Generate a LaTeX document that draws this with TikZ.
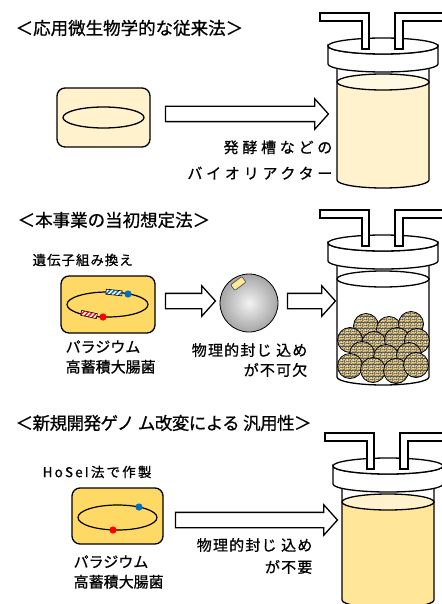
\documentclass[tikz,border=0pt]{standalone}
\usepackage{fontspec}
\newfontfamily\headfont[FakeBold=0.8]{Noto Sans CJK JP}
\newfontfamily\labelfont[LetterSpace=8,FakeBold=0.8]{Noto Sans CJK JP}
\usetikzlibrary{shapes.arrows,patterns.meta}
\definecolor{pale}{HTML}{FFF2CC}
\definecolor{paletop}{HTML}{FFF8E3}
\definecolor{gold}{HTML}{FFD966}
\definecolor{broth}{HTML}{FFE699}
\definecolor{rod}{HTML}{F2D27A}
\definecolor{dotblue}{HTML}{0070C0}
\definecolor{dotred}{HTML}{FF0000}

% immobilised cells inside a bead
\tikzdeclarepattern{name=rods,type=colored,
  bottom left={(0pt,0pt)},top right={(6pt,6pt)},tile size={(6pt,6pt)},
  code={
    \draw[rod,line width=1.5pt,line cap=round]
      (0.7pt,1.0pt) -- (2.2pt,2.5pt)
      (3.5pt,0.7pt) -- (5.2pt,1.6pt)
      (0.9pt,4.1pt) -- (2.6pt,5.1pt)
      (4.1pt,3.2pt) -- (4.9pt,4.8pt);
  }}

% fermenter: #1 shift, #2 liquid, #3 liquid surface
\newcommand{\fermenter}[3]{%
  \begin{scope}[shift={#1}]
    \fill[white] (-46,20) -- (-46,134) arc[start angle=180,end angle=0,x radius=46,y radius=8] -- (46,20) -- cycle;
    \fill[#2] (-46,36) -- (-46,134) arc[start angle=180,end angle=0,x radius=46,y radius=8] -- (46,36) -- cycle;
    \draw[#3] (0,36) ellipse[x radius=46,y radius=8];
    \draw (-46,20) -- (-46,134) arc[start angle=180,end angle=0,x radius=46,y radius=8] -- (46,20);
    % lid
    \draw[fill=white] (-55,0) -- (-55,18) arc[start angle=180,end angle=0,x radius=55,y radius=8]
      -- (55,0) arc[start angle=0,end angle=180,x radius=55,y radius=8] -- cycle;
    \draw[fill=white] (0,0) ellipse[x radius=55,y radius=8];
    % tubes
    \draw[fill=white] (-63,-33) -- (-14,-33) -- (-14,3) -- (-21,3) -- (-21,-25) -- (-63,-25) -- cycle;
    \draw[fill=white] (12,3) -- (12,-33) -- (75,-33) -- (75,-25) -- (20,-25) -- (20,3) -- cycle;
  \end{scope}}

\begin{document}
\begin{tikzpicture}[x=1pt,y=-1pt,line width=1.3pt,
  heading/.style={anchor=west,inner sep=0,font=\fontsize{17.5}{20}\selectfont\headfont},
  lbl/.style={inner sep=0,font=\fontsize{15}{#1}\selectfont\labelfont},
  lbl/.default=20,
  strain/.style={inner sep=0,anchor=west,align=left,
    font=\fontsize{15}{20}\selectfont\labelfont\addfontfeature{LetterSpace=0}},
  small/.style={inner sep=0,anchor=west,font=\fontsize{13.5}{16}\selectfont\labelfont},
  cell/.style={draw,rounded corners=8,inner sep=0},
  bigarrow/.style={single arrow,draw,fill=white,inner xsep=0,inner ysep=7pt,
    text height=0pt,text depth=0pt,minimum width=0pt,
    single arrow head extend=7.5pt,single arrow tip angle=96},
  marker/.style={draw,line width=0.6pt,inner sep=0,minimum width=16,minimum height=5,
    preaction={fill=white},pattern={Lines[angle=45,distance=3.2pt,line width=1.3pt]}},
  bead/.style={draw,line width=0.8pt,preaction={fill=black!65},pattern=rods}]
\fill[white] (0,0) rectangle (441,604);
\useasboundingbox (0,0) rectangle (441,604);

% conventional route
\node[heading] (head1) at (15,28) {＜応用微生物学的な従来法＞};
\node[cell,fill=pale,minimum width=93,minimum height=59] (cell1) at (103.5,117.5) {};
\draw (cell1.center) ellipse[x radius=40.5,y radius=10.5];
\node[bigarrow,minimum height=163] (arr1) at (243.5,114) {};
\fermenter{(383,46)}{pale}{fill=paletop}
\node[lbl=26,font=\fontsize{15}{26}\selectfont\labelfont\addfontfeature{LetterSpace=25},
  anchor=east,align=right] (tank1) at (333,160) {発酵槽などの\\バイオリアクター};

% initial plan
\node[heading] (head2) at (17,220) {＜本事業の当初想定法＞};
\node[small,font=\fontsize{13.5}{16}\selectfont\labelfont\addfontfeature{LetterSpace=7}] (gmo) at (32,260) {遺伝子組み換え};
\node[cell,fill=gold,minimum width=94,minimum height=57] (cell2) at (108,304.5) {};
\draw[line width=1.2pt] (107.5,304.5) ellipse[x radius=40.5,y radius=12.5];
\node[marker,pattern color=dotblue,rotate=-6] (geneB2) at (114,292.5) {};
\node[marker,pattern color=dotred,rotate=-12] (geneR2) at (89,314.5) {};
\fill[dotblue] (128,294) circle[radius=3.6];
\fill[dotred] (103,317) circle[radius=3.6];
\node[strain] (strain2) at (65,357) {パラジウム\\高蓄積大腸菌};
\node[bigarrow,minimum height=50] (arr2a) at (187,301) {};
\node[circle,draw,line width=0.8pt,minimum size=58,inner sep=0,shading=radial,
  inner color=black!5,outer color=black!35] (capsule) at (249,303) {};
\node[draw=black!75,line width=0.6pt,fill=broth,rotate=37,minimum width=14,minimum height=7,
  inner sep=0,rounded corners=1] (chip) at (238.3,283.5) {};
\node[bigarrow,minimum height=48] (arr2b) at (308,301) {};
\node[lbl,anchor=east,align=right] (contain2) at (308,360) {物理的封じ 込め\\が不可欠};
\fermenter{(383,243)}{white}{fill=white}
\foreach \bx/\by in {366/326,389/329,411/324,350/340,374/344,397/340,417/341,
  362/354,386/357,409/355,350/366,373/370,396/371,416/365}
  \path[bead] (\bx,\by) circle[radius=12.5];

% genome engineering route
\node[heading,font=\fontsize{17.5}{20}\selectfont\headfont\addfontfeature{LetterSpace=-3}] (head3) at (15,423)
  {＜新規開発ゲノ ム改変による 汎用性＞};
\node[small,font=\fontsize{13.5}{16}\selectfont\labelfont\addfontfeature{LetterSpace=16}] (hosei) at (42,472) {HoSeI法で作製};
\node[cell,fill=gold,minimum width=91,minimum height=56] (cell3) at (117.5,516) {};
\draw[line width=1.2pt] (117.5,517.5) ellipse[x radius=39.5,y radius=12.5];
\fill[dotblue] (139,507) circle[radius=3.6];
\fill[dotred] (113,530) circle[radius=3.6];
\node[strain] (strain3) at (73,572) {パラジウム\\高蓄積大腸菌};
\node[bigarrow,minimum height=162] (arr3) at (253,520) {};
\node[lbl=22,anchor=east,align=right] (contain3) at (313,556) {物理的封じ 込め\\が不要};
\fermenter{(388,466)}{broth}{fill=pale}
\end{tikzpicture}
\end{document}
